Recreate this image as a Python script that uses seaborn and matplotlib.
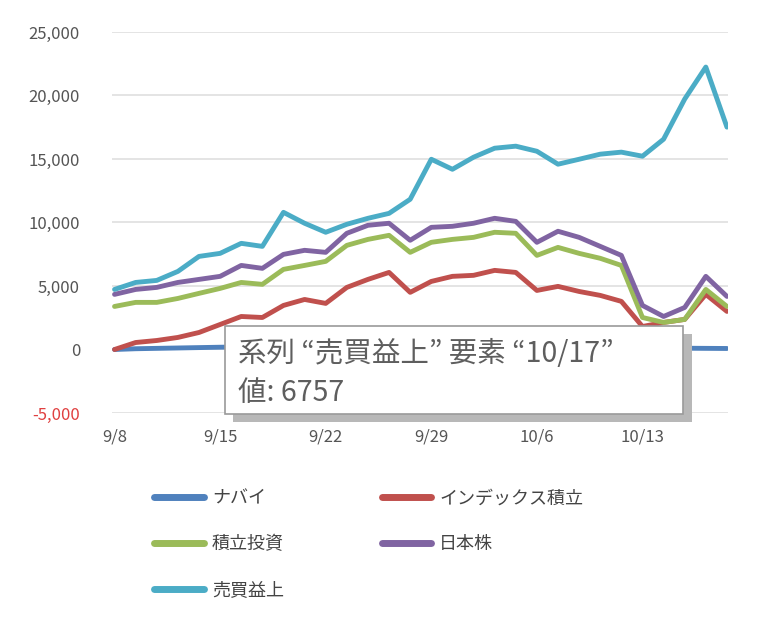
import matplotlib
matplotlib.use("Agg")
import matplotlib.pyplot as plt
from matplotlib.patches import Rectangle
from matplotlib.lines import Line2D
import seaborn as sns
import pandas as pd

sns.set_theme(style="white")
plt.rcParams['font.family'] = ['Noto Sans CJK JP', 'DejaVu Sans']

# ---- data ----
dates = ["9/8", "9/9", "9/10", "9/11", "9/12",
         "9/15", "9/16", "9/17", "9/18", "9/19",
         "9/22", "9/23", "9/24", "9/25", "9/26",
         "9/29", "9/30", "10/1", "10/2", "10/3",
         "10/6", "10/7", "10/8", "10/9", "10/10",
         "10/13", "10/14", "10/15", "10/16", "10/17"]
series_names = ["ナバイ", "インデックス積立", "積立投資", "日本株", "売買益上"]
s_blue = [0, 60, 90, 120, 150, 180, 200, 220, 240, 250,
          260, 270, 280, 290, 280, 270, 260, 250, 240, 230,
          220, 210, 200, 190, 180, 150, 120, 100, 90, 80]
s_red = [0, 550, 710, 950, 1340, 1970, 2600, 2520, 3470, 3940,
         3630, 4890, 5520, 6070, 4500, 5360, 5760, 5840, 6230, 6070,
         4650, 4970, 4570, 4260, 3790, 1810, 2130, 2370, 4340, 3000]
s_green = [3390, 3710, 3710, 4020, 4420, 4810, 5280, 5130, 6310, 6620,
           6940, 8200, 8670, 8990, 7650, 8440, 8670, 8830, 9230, 9150,
           7410, 8040, 7570, 7180, 6620, 2520, 2130, 2370, 4730, 3390]
s_purple = [4340, 4730, 4890, 5280, 5520, 5760, 6620, 6390, 7490, 7810,
            7650, 9150, 9780, 9940, 8600, 9620, 9700, 9940, 10330, 10090,
            8440, 9310, 8830, 8120, 7410, 3470, 2600, 3310, 5760, 4180]
s_cyan = [4730, 5280, 5440, 6150, 7330, 7570, 8360, 8120, 10800, 9940,
          9230, 9860, 10330, 10720, 11830, 14980, 14190, 15140, 15850, 16010,
          15610, 14590, 14980, 15380, 15540, 15220, 16560, 19720, 22240, 17510]
y_ticks = [-5000, 0, 5000, 10000, 15000, 20000, 25000]
y_tick_labels = ["-5,000", "0", "5,000", "10,000", "15,000", "20,000", "25,000"]
tooltip_series = "売買益上"
tooltip_point = "10/17"
tooltip_value = "6757"

colors = ["#4F81BD", "#C0504D", "#9BBB59", "#8064A2", "#4BACC6"]

values = [s_blue, s_red, s_green, s_purple, s_cyan]
rows = []
for name, vals in zip(series_names, values):
    for i, (d, v) in enumerate(zip(dates, vals)):
        rows.append({"idx": i, "date": d, "value": v, "series": name})
df = pd.DataFrame(rows)

W, H = 758, 635
fig = plt.figure(figsize=(W / 100, H / 100), dpi=100)
ax = fig.add_axes([112 / W, 1 - 413 / H, (728 - 112) / W, (413 - 32) / H])

sns.lineplot(data=df, x="idx", y="value", hue="series", hue_order=series_names,
             palette=colors, linewidth=3.5, ax=ax, legend=False, sort=False)

ax.set_ylim(-5000, 25000)
ax.set_xlim(-0.12, len(dates) - 1 + 0.05)
ax.set_yticks(y_ticks)
ax.set_yticklabels(y_tick_labels)
ax.set_xticks(range(0, len(dates), 5))
ax.set_xticklabels([dates[i] for i in range(0, len(dates), 5)])
ax.set_xlabel("")
ax.set_ylabel("")
ax.yaxis.grid(True, color="#E2E2E2", linewidth=1.3)
ax.xaxis.grid(False)
for sp in ax.spines.values():
    sp.set_visible(False)
ax.tick_params(axis="both", length=0, labelsize=12, labelcolor="#555555")
ax.tick_params(axis="y", pad=23)
ax.tick_params(axis="x", pad=11)
for lbl in ax.get_yticklabels():
    if lbl.get_text().startswith("-"):
        lbl.set_color("#E04040")

# legend (row-major order via column-major reordering)
handles = [Line2D([0], [0], color=c, linewidth=5) for c in colors]
order = [0, 2, 4, 1, 3]
fig.legend([handles[i] for i in order], [series_names[i] for i in order],
           ncol=2, loc="upper left", bbox_to_anchor=(138 / W, 1 - 473 / H),
           frameon=False, fontsize=13, handlelength=2.75, handletextpad=0.45,
           labelspacing=1.55, columnspacing=5.4, labelcolor="#444444")

# tooltip box
shadow = Rectangle((233 / W, 1 - 422 / H), (692 - 233) / W, (422 - 334) / H,
                   transform=fig.transFigure, facecolor="#B8B8B8", edgecolor="none",
                   zorder=9)
box = Rectangle((225 / W, 1 - 414 / H), (683 - 225) / W, (414 - 326) / H,
                transform=fig.transFigure, facecolor="white", edgecolor="#9A9A9A",
                linewidth=1.2, zorder=10)
fig.add_artist(shadow)
fig.add_artist(box)
fig.text(238 / W, 1 - 354 / H,
         f"系列 \u201c{tooltip_series}\u201d 要素 \u201c{tooltip_point}\u201d",
         fontsize=20.5, color="#5E5E5E", va="center", ha="left", zorder=11)
fig.text(238 / W, 1 - 393 / H, f"値: {tooltip_value}",
         fontsize=20.5, color="#5E5E5E", va="center", ha="left", zorder=11)

fig.savefig("out.png", dpi=100, facecolor="white")
